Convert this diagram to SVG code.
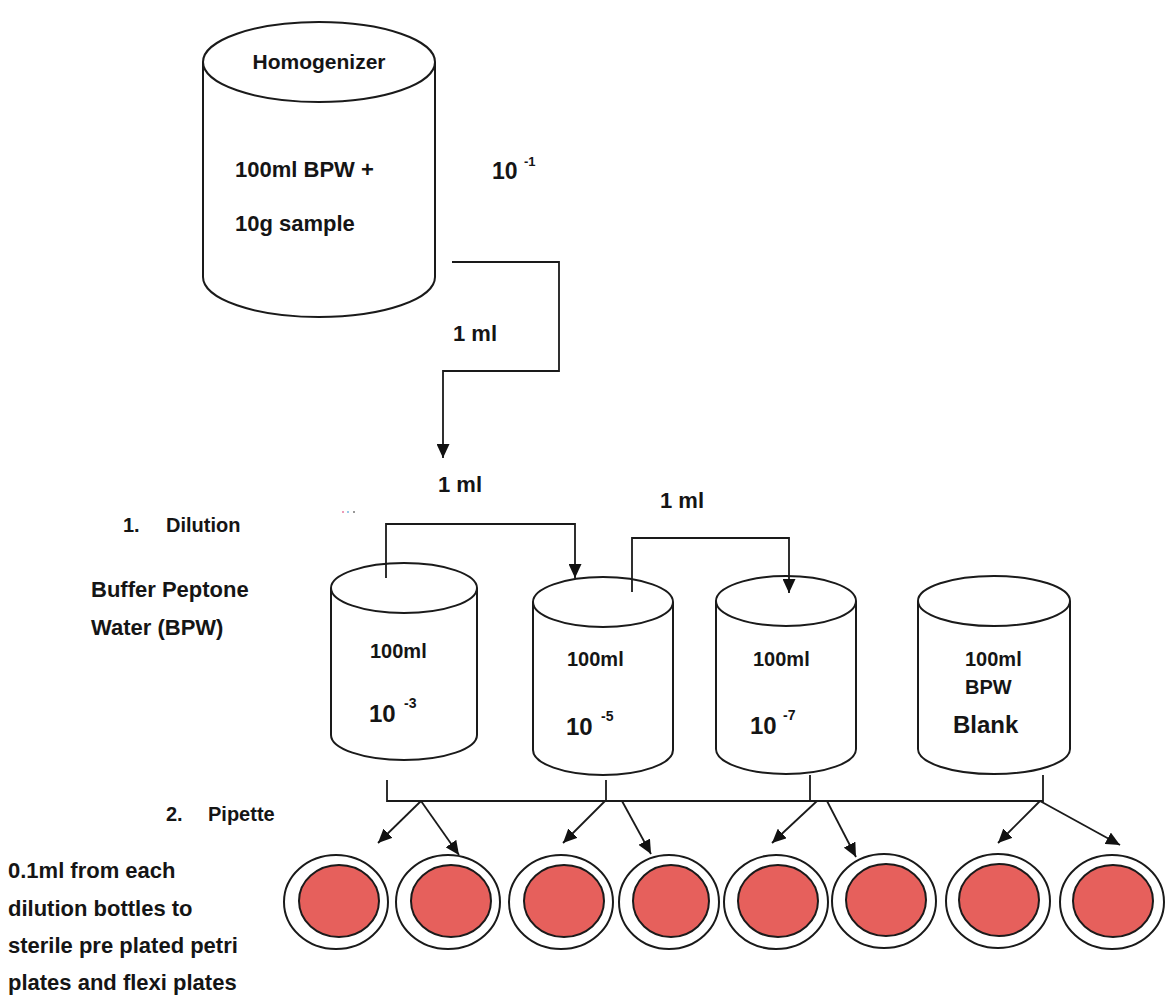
<svg xmlns="http://www.w3.org/2000/svg" width="1166" height="998" viewBox="0 0 1166 998">
<defs>
<style>
.t{font-family:"Liberation Sans",Arial,sans-serif;font-weight:bold;fill:#151515;}
.cyl{fill:#fff;stroke:#1a1a1a;stroke-width:2;}
.ln{fill:none;stroke:#1a1a1a;stroke-width:1.8;}
.outer{fill:#fff;stroke:#1a1a1a;stroke-width:2;}
.inner{fill:#E6605C;stroke:#1a1a1a;stroke-width:2;}
</style>
<marker id="ah" markerUnits="userSpaceOnUse" markerWidth="15" markerHeight="13" refX="14" refY="6.5" orient="auto">
<path d="M0,0 L14,6.5 L0,13 z" fill="#111"/>
</marker>
</defs>
<rect width="1166" height="998" fill="#fff"/>

<g id="homogenizer">
<path class="cyl" d="M203,62 L203,277 A116,40 0 0 0 435,277 L435,62"/>
<ellipse class="cyl" cx="319" cy="62" rx="116" ry="40"/>
<text class="t" x="319" y="69" font-size="21" text-anchor="middle">Homogenizer</text>
<text class="t" x="235" y="177" font-size="22">100ml BPW +</text>
<text class="t" x="235" y="231" font-size="22">10g sample</text>
</g>

<g id="dilution-label">
<text class="t" x="492" y="179" font-size="23">10</text>
<text class="t" x="524" y="166" font-size="13">-1</text>
</g>

<g id="bottle1">
<path class="cyl" d="M331,588 L331,735 A73,25 0 0 0 477,735 L477,588"/>
<ellipse class="cyl" cx="404" cy="588" rx="73" ry="25"/>
<text class="t" x="370" y="658" font-size="20">100ml</text>
<text class="t" x="369" y="722" font-size="24">10</text>
<text class="t" x="404" y="708" font-size="14">-3</text>
</g>

<g id="bottle2">
<path class="cyl" d="M533,602 L533,750 A70,25 0 0 0 673,750 L673,602"/>
<ellipse class="cyl" cx="603" cy="602" rx="70" ry="25"/>
<text class="t" x="567" y="666" font-size="20">100ml</text>
<text class="t" x="566" y="735" font-size="24">10</text>
<text class="t" x="601" y="721" font-size="14">-5</text>
</g>

<g id="bottle3">
<path class="cyl" d="M716,601 L716,749 A70,25 0 0 0 856,749 L856,601"/>
<ellipse class="cyl" cx="786" cy="601" rx="70" ry="25"/>
<text class="t" x="753" y="666" font-size="20">100ml</text>
<text class="t" x="750" y="734" font-size="24">10</text>
<text class="t" x="783" y="720" font-size="14">-7</text>
</g>

<g id="bottle4">
<path class="cyl" d="M918,601 L918,749 A76,25 0 0 0 1070,749 L1070,601"/>
<ellipse class="cyl" cx="994" cy="601" rx="76" ry="25"/>
<text class="t" x="965" y="666" font-size="20">100ml</text>
<text class="t" x="965" y="694" font-size="20">BPW</text>
<text class="t" x="953" y="733" font-size="24">Blank</text>
</g>

<g id="labels">
<text class="t" x="123" y="532" font-size="20">1.</text>
<text class="t" x="166" y="532" font-size="20">Dilution</text>
<text class="t" x="91" y="597" font-size="22">Buffer Peptone</text>
<text class="t" x="91" y="635" font-size="22">Water (BPW)</text>
<text class="t" x="166" y="821" font-size="20">2.</text>
<text class="t" x="208" y="821" font-size="20">Pipette</text>
<text class="t" x="8" y="878" font-size="22">0.1ml from each</text>
<text class="t" x="8" y="916" font-size="22">dilution bottles to</text>
<text class="t" x="8" y="953" font-size="22">sterile pre plated petri</text>
<text class="t" x="8" y="990" font-size="22">plates and flexi plates</text>
<circle cx="343" cy="512" r="1" fill="#e77aa0"/>
<circle cx="348" cy="512" r="1" fill="#7ab8e0"/>
<circle cx="354" cy="512" r="1" fill="#777"/>
</g>

<g id="connectors">
<polyline class="ln" points="452,262 559,262 559,371 443,371 443,458" marker-end="url(#ah)"/>
<text class="t" x="453" y="341" font-size="22">1 ml</text>
<text class="t" x="438" y="492" font-size="22">1 ml</text>
<polyline class="ln" points="386,578 386,524 575,524 575,578" marker-end="url(#ah)"/>
<polyline class="ln" points="632,592 632,538 789,538 789,593" marker-end="url(#ah)"/>
<text class="t" x="660" y="508" font-size="22">1 ml</text>
<polyline class="ln" points="387,780 387,801 1043,801 1043,775"/>
<line class="ln" x1="606" y1="780" x2="606" y2="801"/>
<line class="ln" x1="810" y1="775" x2="810" y2="801"/>
<line class="ln" x1="421" y1="801" x2="378" y2="843" marker-end="url(#ah)"/>
<line class="ln" x1="421" y1="801" x2="459" y2="855" marker-end="url(#ah)"/>
<line class="ln" x1="605" y1="801" x2="563" y2="843" marker-end="url(#ah)"/>
<line class="ln" x1="622" y1="801" x2="651" y2="854" marker-end="url(#ah)"/>
<line class="ln" x1="817" y1="801" x2="772" y2="843" marker-end="url(#ah)"/>
<line class="ln" x1="827" y1="801" x2="856" y2="857" marker-end="url(#ah)"/>
<line class="ln" x1="1040" y1="801" x2="998" y2="843" marker-end="url(#ah)"/>
<line class="ln" x1="1040" y1="801" x2="1120" y2="845" marker-end="url(#ah)"/>
</g>

<g id="plate1"><ellipse class="outer" cx="336" cy="902" rx="52" ry="47"/><ellipse class="inner" cx="339" cy="901" rx="40" ry="36"/></g>
<g id="plate2"><ellipse class="outer" cx="448" cy="902" rx="52" ry="47"/><ellipse class="inner" cx="451" cy="901" rx="40" ry="36"/></g>
<g id="plate3"><ellipse class="outer" cx="561" cy="902" rx="52" ry="47"/><ellipse class="inner" cx="564" cy="901" rx="40" ry="36"/></g>
<g id="plate4"><ellipse class="outer" cx="669" cy="902" rx="50" ry="47"/><ellipse class="inner" cx="671" cy="901" rx="38" ry="36"/></g>
<g id="plate5"><ellipse class="outer" cx="776" cy="902" rx="52" ry="47"/><ellipse class="inner" cx="778" cy="901" rx="40" ry="36"/></g>
<g id="plate6"><ellipse class="outer" cx="884" cy="901" rx="52" ry="47"/><ellipse class="inner" cx="886" cy="900" rx="40" ry="36"/></g>
<g id="plate7"><ellipse class="outer" cx="998" cy="901" rx="52" ry="47"/><ellipse class="inner" cx="999" cy="900" rx="40" ry="36"/></g>
<g id="plate8"><ellipse class="outer" cx="1112" cy="902" rx="52" ry="47"/><ellipse class="inner" cx="1113" cy="901" rx="40" ry="36"/></g>
</svg>
